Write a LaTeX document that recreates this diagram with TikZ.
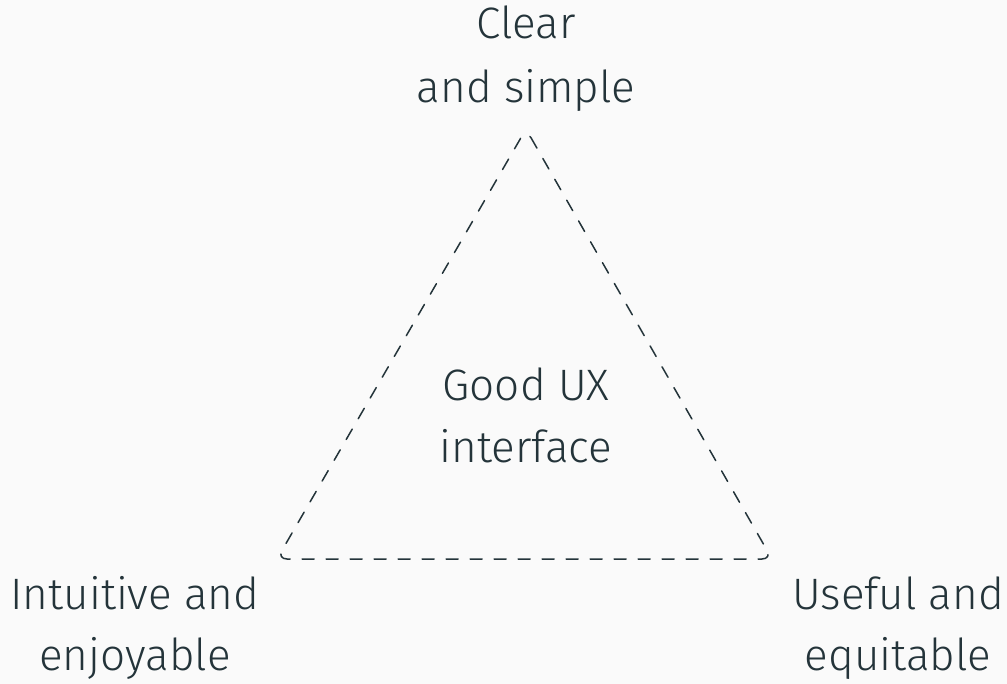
\documentclass[tikz,border=0pt]{standalone}
\usepackage{fontspec}
\setmainfont{Fira Sans Light}
\definecolor{ink}{RGB}{36,52,58}
\definecolor{bg}{RGB}{250,250,250}
\begin{document}
\begin{tikzpicture}[x=1pt,y=-1pt,
  lbl/.style={inner sep=0pt,anchor=base,text=ink,font=\fontsize{44}{61}\selectfont},
  edge/.style={draw=ink,line width=1.5pt,dash pattern=on 12pt off 12pt,rounded corners=10pt,line cap=round}]
\fill[bg] (0,0) rectangle (1007,684);
\useasboundingbox (0,0) rectangle (1007,684);
\coordinate (A) at (526,129);
\coordinate (B) at (277,559);
\coordinate (C) at (772,559);
\draw[edge] (A) -- (C) -- (B) -- cycle;
\node[lbl] (t1) at (526,39) {Clear};
\node[lbl] (t2) at (526,103) {and simple};
\node[lbl] (l1) at (135,609) {Intuitive and};
\node[lbl] (l2) at (135,670) {enjoyable};
\node[lbl] (r1) at (898,609) {Useful and};
\node[lbl] (r2) at (898,670) {equitable};
\node[lbl] (c1) at (526,401) {Good UX};
\node[lbl] (c2) at (526,463) {interface};
\end{tikzpicture}
\end{document}
